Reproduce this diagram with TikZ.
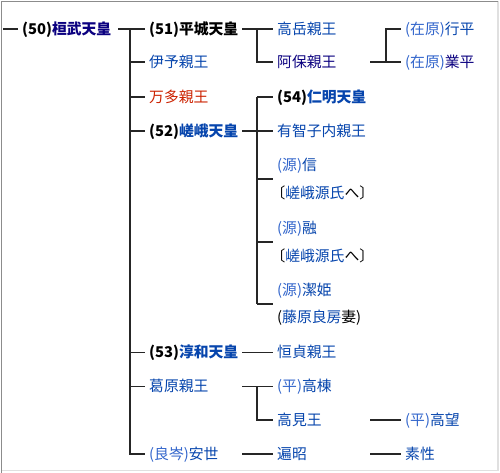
\documentclass[tikz,border=0pt]{standalone}
\usepackage{fontspec}
\setmainfont{Noto Sans CJK JP}
\definecolor{lnk}{HTML}{0645AD}
\definecolor{vis}{HTML}{0B0080}
\definecolor{lt}{HTML}{3366CC}
\definecolor{rl}{HTML}{CC2200}
\newcommand{\lbrk}{\kern-0.45em〔}
\begin{document}
\begin{tikzpicture}[x=1pt,y=-1pt,
  lbl/.style={anchor=west,inner sep=0pt,font=\fontsize{14.8}{17}\selectfont,text height=12.4pt,text depth=1.7pt},
  lbl2/.style={anchor=west,inner sep=0pt,align=left,font=\fontsize{14.8}{27.5}\selectfont},
  ln/.style={line width=1.2pt,black!85},
  br/.style={ln}]
\useasboundingbox (0,0) rectangle (500,473);
\fill[white] (0,0) rectangle (500,473);
\draw[black!12,line width=1.5pt] (498,1.5) -- (498,470.5) -- (1.5,470.5);
\draw[black!45,line width=1.3pt] (1.5,473) -- (1.5,1.5) -- (498,1.5);
% column coordinates
\coordinate (a0) at (3,0);
\coordinate (a1) at (118,0);
\coordinate (b1) at (130,0);
\coordinate (a2) at (242,0);
\coordinate (b2) at (257,0);
\coordinate (a3) at (370,0);
\coordinate (b3) at (386,0);
% nodes
\node[lbl] (k50) at (22,29) {\textbf{(50){\color{vis}桓武天皇}}};
\node[lbl] (h51) at (149,29) {\textbf{(51)平城天皇}};
\node[lbl,text=lnk] (iyo) at (149,62) {伊予親王};
\node[lbl,text=rl] (manda) at (149,97) {万多親王};
\node[lbl] (s52) at (149,131) {\textbf{(52){\color{lnk}嵯峨天皇}}};
\node[lbl] (j53) at (149,352.5) {\textbf{(53){\color{lnk}淳和天皇}}};
\node[lbl,text=lnk] (kuzu) at (149,386.5) {葛原親王};
\node[lbl] (yasu) at (149,454) {{\color{lt}(良岑)}{\color{lnk}安世}};
\node[lbl,text=lnk] (taka) at (277,29) {高岳親王};
\node[lbl,text=vis] (abo) at (277,62) {阿保親王};
\node[lbl] (n54) at (277,97) {\textbf{(54){\color{lnk}仁明天皇}}};
\node[lbl,text=lnk] (uchi) at (277,131) {有智子内親王};
\node[lbl2] (mak) at (277,179) {{\color{lt}(源)}{\color{lnk}信}\\\lbrk{\color{lnk}嵯峨源氏}へ〕};
\node[lbl2] (toru) at (277,242) {{\color{lt}(源)}{\color{lnk}融}\\\lbrk{\color{lnk}嵯峨源氏}へ〕};
\node[lbl2] (kiyo) at (277,304) {{\color{lt}(源)}{\color{lnk}潔姫}\\({\color{lnk}藤原良房}妻)};
\node[lbl,text=lnk] (tsune) at (277,352.5) {恒貞親王};
\node[lbl] (takamune) at (277,386.5) {{\color{lt}(平)}{\color{lnk}高棟}};
\node[lbl,text=lnk] (takami) at (277,420) {高見王};
\node[lbl,text=lnk] (hen) at (277,454) {遍昭};
\node[lbl] (yuki) at (405,29) {{\color{lt}(在原)}{\color{lnk}行平}};
\node[lbl] (nari) at (405,62) {{\color{lt}(在原)}{\color{vis}業平}};
\node[lbl] (takamochi) at (405,420) {{\color{lt}(平)}{\color{lnk}高望}};
\node[lbl,text=lnk] (sosei) at (405,454) {素性};
% connectors
\draw[ln] (k50 -| a0) -- ([xshift=-4pt]k50.west);
\draw[ln] (k50 -| a1) -- (k50 -| b1) -- (yasu -| b1) -- ([xshift=-4pt]yasu.west);
\foreach \n in {h51,iyo,manda,s52,j53,kuzu} \draw[br] (\n -| b1) -- ([xshift=-4pt]\n.west);
% Heizei
\draw[ln] (h51 -| a2) -- (h51 -| b2) -- (abo -| b2) -- ([xshift=-4pt]abo.west);
\draw[br] (taka -| b2) -- ([xshift=-4pt]taka.west);
% Abo
\draw[ln] (abo -| a3) -- (abo -| b3) -- (yuki -| b3) -- ([xshift=-4pt]yuki.west);
\draw[br] (abo -| b3) -- ([xshift=-4pt]nari.west);
% Saga
\draw[ln] (s52 -| a2) -- (s52 -| b2);
\draw[ln] (n54 -| b2) -- (kiyo -| b2);
\foreach \n in {n54,uchi,mak,toru,kiyo} \draw[br] (\n -| b2) -- ([xshift=-4pt]\n.west);
% Junna
\draw[ln] (j53 -| a2) -- ([xshift=-4pt]tsune.west);
% Kuzuhara
\draw[ln] (kuzu -| a2) -- (kuzu -| b2) -- (takami -| b2) -- ([xshift=-4pt]takami.west);
\draw[br] (kuzu -| b2) -- ([xshift=-4pt]takamune.west);
% Takami
\draw[ln] (takami -| a3) -- ([xshift=-4pt]takamochi.west);
% Yasuyo
\draw[ln] (yasu -| a2) -- ([xshift=-4pt]hen.west);
% Henjo
\draw[ln] (hen -| a3) -- ([xshift=-4pt]sosei.west);
\end{tikzpicture}
\end{document}
